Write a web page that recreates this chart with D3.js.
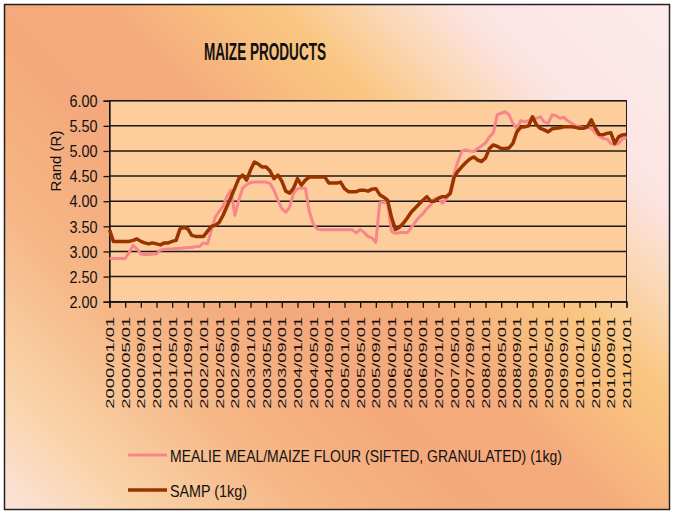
<!DOCTYPE html>
<html>
<head>
<meta charset="utf-8">
<script src="https://cdn.jsdelivr.net/npm/d3@7"></script>
<style>
  body { margin: 0; background: #fff; }
  text { font-family: "Liberation Sans", Arial, sans-serif; fill: #111; }
</style>
</head>
<body>
<div id="chart"></div>
<script>
// monthly prices, 2000/01 .. 2011/01
var startMonth = new Date(2000, 0, 1);
var endMonth = new Date(2011, 1, 1);

var mealieMeal = [2.86,2.86,2.86,2.86,2.86, 2.98,3.12,3.05,2.95, 2.94,2.94,2.95,2.95,
  3.03,3.04,3.05,3.05,3.06,3.06,3.07,3.08, 3.08,3.10,3.10,3.17,3.15,
  3.42,3.68,3.80,3.90,4.10,4.22, 3.72,4.02,4.26,4.33,4.37,4.38, 4.38,4.38,4.38,4.35,
  4.22,4.02,3.85,3.78,3.88, 4.16,4.25,4.26,4.26, 3.80,3.55,3.45,
  3.43,3.43,3.43,3.43,3.43,3.43,3.43,3.43,3.43, 3.37,3.44,3.38,3.30,3.27,3.18,
  3.97,3.98,3.96, 3.40,3.36,3.37,3.38,3.37,
  3.47,3.58,3.68,3.75,3.85,3.92,4.05,4.06,3.96,4.05,4.20,
  4.55,4.80,5.00,5.02,5.00,4.99,5.05,5.10,5.16,5.28,5.36,
  5.72,5.75,5.78,5.72,5.55,5.45,5.60,5.58,5.60,5.65,5.65,5.68,
  5.58,5.55,5.72,5.70,5.65,5.67,5.60,5.55,5.50,5.48,5.47,5.47,
  5.45,5.36,5.30,5.25,5.24,5.15,5.12,5.15,5.24,5.28];

var samp = [3.43,3.20,3.20,3.20,3.20,3.20,3.22,3.25,3.20,3.17,
  3.15,3.17,3.15,3.13,3.17,3.17,3.20,3.22,3.45,3.48,
  3.45,3.32,3.30,3.30,3.30,3.40,3.50,3.52,3.58,3.72,
  3.90,4.08,4.26,4.45,4.52,4.42,4.62,4.78,4.74,4.68,
  4.68,4.60,4.45,4.52,4.40,4.20,4.16,4.26,4.45,4.32,
  4.42,4.48,4.48,4.48,4.48,4.48,4.36,4.36,4.36,4.38,
  4.25,4.19,4.19,4.19,4.22,4.22,4.20,4.24,4.25,4.13,
  4.08,4.02,3.68,3.44,3.48,3.56,3.66,3.78,3.86,3.94,
  4.02,4.09,4.00,4.00,4.06,4.09,4.09,4.15,4.48,4.60,
  4.69,4.77,4.84,4.88,4.82,4.79,4.86,5.05,5.12,5.09,
  5.05,5.05,5.06,5.15,5.38,5.47,5.48,5.50,5.68,5.52,
  5.45,5.42,5.38,5.44,5.45,5.46,5.48,5.48,5.48,5.47,
  5.45,5.45,5.48,5.62,5.46,5.33,5.32,5.35,5.36,5.15,
  5.28,5.32,5.33];

var tickLabels = ["2000/01/01","2000/05/01","2000/09/01","2001/01/01","2001/05/01","2001/09/01",
  "2002/01/01","2002/05/01","2002/09/01","2003/01/01","2003/05/01","2003/09/01",
  "2004/01/01","2004/05/01","2004/09/01","2005/01/01","2005/05/01","2005/09/01",
  "2006/01/01","2006/05/01","2006/09/01","2007/01/01","2007/05/01","2007/09/01",
  "2008/01/01","2008/05/01","2008/09/01","2009/01/01","2009/05/01","2009/09/01",
  "2010/01/01","2010/05/01","2010/09/01","2011/01/01"];

var yTicks = [2, 2.5, 3, 3.5, 4, 4.5, 5, 5.5, 6];

var seriesNames = ["MEALIE MEAL/MAIZE FLOUR (SIFTED, GRANULATED) (1kg)", "SAMP (1kg)"];
var seriesColors = ["#f7868c", "#993300"];

var W = 674, H = 514;
var plot = { left: 109.5, right: 626.5, top: 100.7, bottom: 301.7 };

var months = d3.timeMonth.range(startMonth, endMonth);
var fmt = d3.timeFormat("%Y/%m/%d");

var svg = d3.select("#chart").append("svg")
  .attr("width", W)
  .attr("height", H);

// background gradient
var defs = svg.append("defs");
var grad = defs.append("linearGradient")
  .attr("id", "bg")
  .attr("gradientUnits", "userSpaceOnUse")
  .attr("x1", 0).attr("y1", 514)
  .attr("x2", 594).attr("y2", -80);
[[0, "#fce4de"], [0.12, "#f9d3a8"], [0.26, "#f6b787"], [0.4, "#f4a97c"],
 [0.52, "#f5ab7c"], [0.6, "#f8bd7f"], [0.66, "#f9c680"], [0.74, "#fad7b4"],
 [0.82, "#fce4e3"], [1, "#fdebec"]].forEach(function (s) {
  grad.append("stop").attr("offset", s[0]).attr("stop-color", s[1]);
});

svg.append("rect")
  .attr("x", 4.5).attr("y", 4.5)
  .attr("width", 665).attr("height", 505)
  .attr("fill", "url(#bg)")
  .attr("stroke", "#222")
  .attr("stroke-width", 1.5);

var x = d3.scalePoint().domain(months.map(fmt)).range([plot.left, plot.right]);
var y = d3.scaleLinear().domain([2, 6]).range([plot.bottom, plot.top]);

// plot area
svg.append("rect")
  .attr("x", plot.left).attr("y", plot.top)
  .attr("width", plot.right - plot.left)
  .attr("height", plot.bottom - plot.top)
  .attr("fill", "#fdcd9b")
  .attr("stroke", "#222")
  .attr("stroke-width", 1);

// gridlines
svg.append("g")
  .selectAll("line")
  .data(yTicks)
  .enter()
  .append("line")
  .attr("x1", plot.left).attr("x2", plot.right)
  .attr("y1", function (d) { return y(d); })
  .attr("y2", function (d) { return y(d); })
  .attr("stroke", "#1a1a1a")
  .attr("stroke-width", 1.5);

// y axis
var yAxis = svg.append("g")
  .attr("transform", "translate(" + plot.left + ",0)")
  .call(d3.axisLeft(y).tickValues(yTicks).tickSize(6).tickFormat(d3.format(".2f")));
yAxis.select(".domain").attr("stroke", "#111").attr("stroke-width", 1.3);
yAxis.selectAll(".tick line").attr("stroke", "#111").attr("stroke-width", 1.3);
yAxis.selectAll(".tick text")
  .attr("x", -12)
  .attr("dy", "0.36em")
  .attr("font-size", 16)
  .attr("textLength", 28)
  .attr("lengthAdjust", "spacingAndGlyphs")
  .attr("font-family", "Liberation Sans, Arial, sans-serif")
  .attr("fill", "#111");

// x axis
var xAxis = svg.append("g")
  .attr("transform", "translate(0," + plot.bottom + ")")
  .call(d3.axisBottom(x).tickValues(tickLabels).tickSize(6));
xAxis.select(".domain").attr("stroke", "#111").attr("stroke-width", 1.3);
xAxis.selectAll(".tick line").attr("stroke", "#111").attr("stroke-width", 1.3);
xAxis.selectAll(".tick text")
  .attr("font-size", 11.5)
  .attr("font-family", "Liberation Sans, Arial, sans-serif")
  .attr("fill", "#111")
  .attr("text-anchor", "end")
  .attr("dy", null)
  .attr("x", 0)
  .attr("y", 0)
  .attr("transform", "translate(4,15) rotate(-90)")
  .attr("textLength", 92)
  .attr("lengthAdjust", "spacingAndGlyphs");

// lines
var line = d3.line()
  .x(function (d, i) { return x(fmt(months[i])); })
  .y(function (d) { return y(d); });

[mealieMeal, samp].forEach(function (vals, i) {
  svg.append("path")
    .datum(vals)
    .attr("d", line)
    .attr("fill", "none")
    .attr("stroke", seriesColors[i])
    .attr("stroke-width", i === 0 ? 3 : 3.5)
    .attr("stroke-linejoin", "round");
});

// title (tall, narrow lettering)
svg.append("text")
  .attr("transform", "translate(265,60) scale(1,1.65)")
  .attr("text-anchor", "middle")
  .attr("font-size", 14)
  .attr("font-weight", "bold")
  .attr("textLength", 122)
  .attr("lengthAdjust", "spacingAndGlyphs")
  .text("MAIZE PRODUCTS");

// y axis title
svg.append("text")
  .attr("transform", "translate(61,161) rotate(-90)")
  .attr("text-anchor", "middle")
  .attr("font-size", 15)
  .text("Rand (R)");

// legend
var legendY = [455, 490];
var legendLen = [392, 77];
var legend = svg.append("g");
seriesNames.forEach(function (name, i) {
  legend.append("line")
    .attr("x1", 128).attr("x2", 167)
    .attr("y1", legendY[i]).attr("y2", legendY[i])
    .attr("stroke", seriesColors[i])
    .attr("stroke-width", i === 0 ? 3 : 3.5);
  legend.append("text")
    .attr("x", 170).attr("y", legendY[i] + 7)
    .attr("font-size", 17)
    .attr("textLength", legendLen[i])
    .attr("lengthAdjust", "spacingAndGlyphs")
    .text(name);
});
</script>
</body>
</html>
